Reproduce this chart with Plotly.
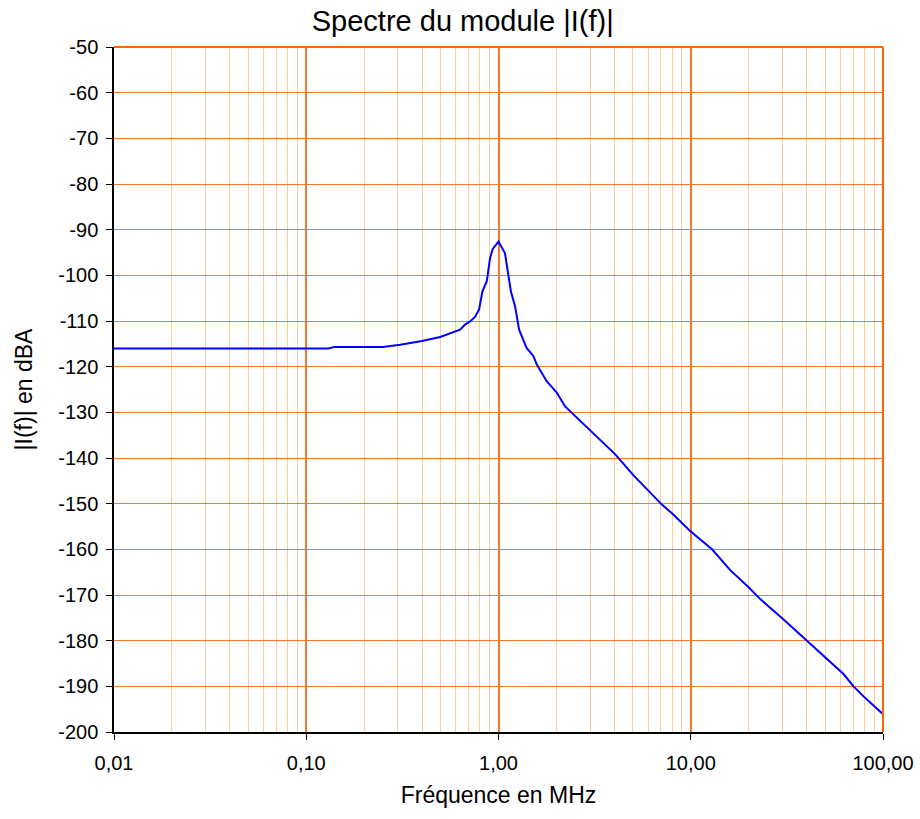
import plotly.graph_objects as go

freq_mhz = [0.01, 0.05, 0.10, 0.13, 0.14, 0.20, 0.25, 0.308, 0.40, 0.497, 0.631, 0.670, 0.711,
            0.755, 0.793, 0.825, 0.869, 0.904, 0.933, 1.00, 1.08, 1.16, 1.22, 1.28, 1.40,
            1.52, 1.58, 1.78, 2.01, 2.22, 3.0, 4.05, 5.04, 7.08, 7.98, 9.93, 12.9, 16.0,
            20.0, 23.0, 30.3, 40.2, 50.0, 57.5, 62.3, 70.3, 79.2, 100.0]
module_dba = [-116.0, -116.0, -116.0, -116.0, -115.7, -115.7, -115.7, -115.2, -114.4, -113.5,
              -111.9, -110.8, -110.1, -109.1, -107.4, -103.5, -101.3, -96.2, -94.2, -92.6,
              -95.1, -103.5, -106.8, -111.9, -115.9, -117.7, -119.5, -123.2, -125.7, -128.7,
              -134.0, -139.2, -143.8, -150.2, -152.1, -156.0, -160.0, -164.5, -168.3, -170.9,
              -175.3, -180.0, -183.7, -185.9, -187.3, -190.0, -192.2, -196.1]

x_tickvals = [0.01, 0.1, 1, 10, 100]
x_ticktext = ["0,01", "0,10", "1,00", "10,00", "100,00"]
y_tickvals = list(range(-200, -49, 10))
y_ticktext = [str(v) for v in y_tickvals]
minor_vals = [m * d for d in [0.01, 0.1, 1, 10] for m in range(2, 10)]

major_orange = "#F27A2E"
minor_orange = "#FFCC99"
font_family = "Liberation Sans, Arial, sans-serif"

fig = go.Figure()
fig.add_trace(go.Scatter(x=freq_mhz, y=module_dba, mode="lines",
                         line=dict(color="#0000FF", width=2), showlegend=False))

fig.update_layout(
    width=920, height=819,
    margin=dict(l=114, r=37, t=47, b=87),
    paper_bgcolor="white", plot_bgcolor="white",
    font=dict(family=font_family, size=20, color="black"),
    title=dict(text="Spectre du module |I(f)|", x=0.503, xref="container", xanchor="center",
               y=1 - 21 / 819, yref="container", yanchor="middle",
               font=dict(size=29, family=font_family, color="black")),
)

fig.update_xaxes(
    type="log", range=[-2, 2], automargin="bottom",
    tickvals=x_tickvals, ticktext=x_ticktext,
    showgrid=True, gridcolor=major_orange, gridwidth=1.5,
    minor=dict(tickvals=minor_vals, showgrid=True, gridcolor=minor_orange, gridwidth=1, ticks=""),
    showline=True, linecolor="black", linewidth=1.5,
    ticks="outside", ticklen=6, tickcolor="black",
    tickfont=dict(size=20), zeroline=False, ticklabelstandoff=6,
    title=dict(text="Fréquence en MHz", font=dict(size=23), standoff=14),
)
fig.update_yaxes(
    range=[-200, -50], tickvals=y_tickvals, ticktext=y_ticktext, automargin="left",
    showgrid=True, gridcolor=major_orange, gridwidth=1.2,
    showline=True, linecolor="black", linewidth=1.5,
    ticks="outside", ticklen=6, tickcolor="black",
    tickfont=dict(size=20), zeroline=False, ticklabelstandoff=4,
    title=dict(text="|I(f)| en dBA", font=dict(size=23), standoff=19),
)

# top and right frame lines in orange
fig.add_shape(type="line", xref="x domain", yref="y domain", x0=0, x1=1, y0=1, y1=1,
              line=dict(color="#FF6600", width=2))
fig.add_shape(type="line", xref="x domain", yref="y domain", x0=1, x1=1, y0=0, y1=1,
              line=dict(color="#FF6600", width=2))

fig.write_html("out.html")
